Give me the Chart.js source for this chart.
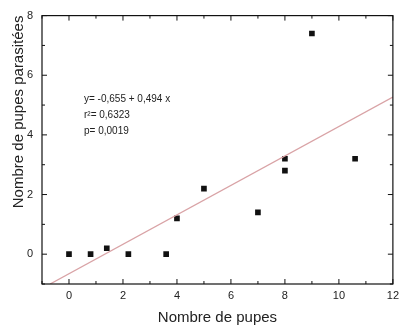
<!DOCTYPE html>
<html>
<head>
<meta charset="utf-8">
<script src="https://cdn.jsdelivr.net/npm/chart.js@4"></script>
<style>
  html, body { margin: 0; padding: 0; background: #fff; }
  #wrap { width: 404px; height: 330px; }
</style>
</head>
<body>
<div id="wrap"><canvas id="pupes"></canvas></div>
<script>
// valeurs
const pupesX = [0, 0.8, 1.4, 2.2, 3.6, 4, 5, 7, 8, 8, 9, 10.6];
const parasiteesY = [0, 0, 0.2, 0, 0, 1.2, 2.2, 1.4, 3.2, 2.8, 7.4, 3.2];
// droite de régression (extrémités)
const droiteX = [-0.7, 12];
const droiteY = [-1.0, 5.27];
const xTicks = [0, 2, 4, 6, 8, 10, 12];
const yTicks = [0, 2, 4, 6, 8];
const annotation = ["y= -0,655 + 0,494 x", "r\u00b2= 0,6323", "p= 0,0019"];

const fontFamily = "'Liberation Sans', Arial, sans-serif";

const points = pupesX.map((x, i) => ({ x: x, y: parasiteesY[i] }));
const droite = droiteX.map((x, i) => ({ x: x, y: droiteY[i] }));

// cadre + graduations vers l'intérieur, sur les quatre côtés
const cadrePlugin = {
    id: "cadre",
    afterDatasetsDraw(chart) {
        const ctx = chart.ctx;
        const area = chart.chartArea;
        const xs = chart.scales.x;
        const ys = chart.scales.y;
        ctx.save();
        ctx.strokeStyle = "#111";
        ctx.lineWidth = 1.2;
        ctx.strokeRect(area.left, area.top, area.right - area.left, area.bottom - area.top);
        ctx.lineWidth = 1;
        xs.ticks.forEach((t) => {
            const px = xs.getPixelForValue(t.value);
            const len = xTicks.includes(t.value) ? 5 : 3;
            ctx.beginPath();
            ctx.moveTo(px, area.bottom);
            ctx.lineTo(px, area.bottom - len);
            ctx.moveTo(px, area.top);
            ctx.lineTo(px, area.top + len);
            ctx.stroke();
        });
        ys.ticks.forEach((t) => {
            const py = ys.getPixelForValue(t.value);
            const len = yTicks.includes(t.value) ? 5 : 3;
            ctx.beginPath();
            ctx.moveTo(area.left, py);
            ctx.lineTo(area.left + len, py);
            ctx.moveTo(area.right, py);
            ctx.lineTo(area.right - len, py);
            ctx.stroke();
        });
        // texte de la régression
        ctx.fillStyle = "#222";
        ctx.font = "10px " + fontFamily;
        ctx.textBaseline = "middle";
        annotation.forEach((line, i) => {
            ctx.fillText(line, 84, 99 + i * 16);
        });
        ctx.restore();
    },
};

const ctx = document.getElementById("pupes").getContext("2d");
new Chart(ctx, {
    type: "scatter",
    data: {
        datasets: [
            {
                type: "line",
                data: droite,
                borderColor: "#d9a3a6",
                borderWidth: 1.3,
                pointRadius: 0,
                fill: false,
            },
            {
                data: points,
                pointStyle: "rect",
                pointRadius: 4,
                backgroundColor: "#111",
                borderColor: "#111",
                borderWidth: 0,
            },
        ],
    },
    options: {
        responsive: true,
        maintainAspectRatio: false,
        animation: false,
        events: [],
        layout: { padding: { top: 10, right: 7, left: 0, bottom: 0 } },
        plugins: { legend: { display: false }, tooltip: { enabled: false } },
        scales: {
            x: {
                type: "linear",
                min: -1,
                max: 12,
                grid: { display: false, drawTicks: false },
                border: { display: false },
                ticks: {
                    stepSize: 1,
                    padding: 5,
                    color: "#222",
                    font: { family: fontFamily, size: 11 },
                    maxRotation: 0,
                    autoSkip: false,
                    callback: (v) => (xTicks.includes(v) ? String(v) : ""),
                },
                title: {
                    display: true,
                    text: "Nombre de pupes",
                    color: "#222",
                    font: { family: fontFamily, size: 15 },
                    padding: { top: 0, bottom: 3 },
                },
                afterFit(scale) {
                    scale.height = 46;
                },
            },
            y: {
                type: "linear",
                min: -1,
                max: 8,
                grid: { display: false, drawTicks: false },
                border: { display: false },
                ticks: {
                    stepSize: 1,
                    padding: 9,
                    color: "#222",
                    font: { family: fontFamily, size: 11 },
                    autoSkip: false,
                    callback: (v) => (yTicks.includes(v) ? String(v) : ""),
                },
                title: {
                    display: true,
                    text: "Nombre de pupes parasitées",
                    align: "end",
                    color: "#222",
                    font: { family: fontFamily, size: 15 },
                    padding: { top: 10, bottom: 0 },
                },
                afterFit(scale) {
                    scale.width = 42;
                },
            },
        },
    },
    plugins: [cadrePlugin],
});
</script>
</body>
</html>
